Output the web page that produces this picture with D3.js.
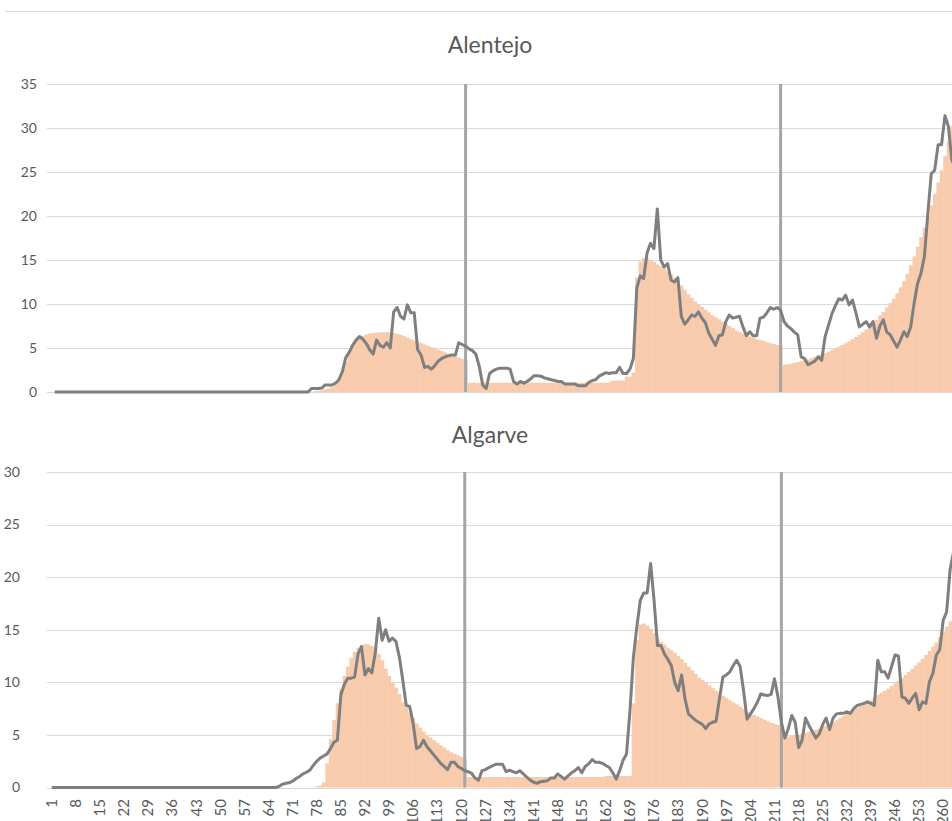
<!DOCTYPE html>
<html><head><meta charset="utf-8">
<script src="https://cdn.jsdelivr.net/npm/d3@7"></script>
<style>html,body{margin:0;padding:0;background:#fff;overflow:hidden}</style>
</head><body>
<svg id="c" width="952" height="821"></svg>
<script>
// ---------- DATA ----------
const categories = d3.range(1, 271);
const tickLabels = ["1","8","15","22","29","36","43","50","57","64","71","78","85","92","99","106","113","120","127","134","141","148","155","162","169","176","183","190","197","204","211","218","225","232","239","246","253","260","267"];
const markerCategories = [121, 213];
const panelTitles = ["Alentejo", "Algarve"];

const alentejoLine = [
0,0,0,0,0,0,0,0,0,0,
0,0,0,0,0,0,0,0,0,0,
0,0,0,0,0,0,0,0,0,0,
0,0,0,0,0,0,0,0,0,0,
0,0,0,0,0,0,0,0,0,0,
0,0,0,0,0,0,0,0,0,0,
0,0,0,0,0,0,0,0,0,0,
0,0,0,0,0,0.4,0.4,0.4,0.45,0.8,
0.8,0.8,1.0,1.4,2.3,3.9,4.5,5.3,5.9,6.3,
6.0,5.5,4.8,4.3,5.9,5.3,5.1,5.6,5.0,9.1,
9.6,8.6,8.3,9.9,9.0,9.0,4.8,4.2,2.8,2.9,
2.6,3.0,3.5,3.8,4.0,4.1,4.2,4.2,5.6,5.4,
5.2,4.9,4.7,4.3,2.9,0.8,0.4,2.1,2.4,2.6,
2.7,2.7,2.7,2.6,1.2,0.9,1.2,1.0,1.2,1.5,
1.85,1.85,1.8,1.6,1.5,1.4,1.3,1.2,1.2,0.9,
0.9,0.9,0.9,0.7,0.7,0.7,1.1,1.3,1.4,1.8,
2.0,2.2,2.1,2.2,2.2,2.8,2.1,2.1,2.6,3.8,
11.8,13.2,12.9,15.8,16.9,16.3,20.8,15.0,14.2,14.6,
12.7,12.5,13.0,8.6,7.7,8.2,8.75,8.6,9.1,8.4,
7.9,6.7,6.0,5.3,6.4,6.5,8.0,8.75,8.4,8.5,
8.6,7.4,6.4,6.85,6.4,6.4,8.4,8.5,9.0,9.6,
9.4,9.6,9.3,8.0,7.5,7.2,6.8,6.5,4.0,3.8,
3.1,3.3,3.5,4.0,3.6,6.3,7.6,8.9,9.8,10.6,
10.45,11.0,9.9,10.45,9.0,7.4,7.7,8.0,7.4,8.0,
6.1,7.5,8.2,6.8,6.5,5.8,5.1,5.9,6.85,6.3,
7.4,10.1,12.3,13.5,15.4,20.3,24.8,25.2,28.1,28.1,
31.4,30.2,26.4,25.5
];
const alentejoBars = [
0,0,0,0,0,0,0,0,0,0,
0,0,0,0,0,0,0,0,0,0,
0,0,0,0,0,0,0,0,0,0,
0,0,0,0,0,0,0,0,0,0,
0,0,0,0,0,0,0,0,0,0,
0,0,0,0,0,0,0,0,0,0,
0,0,0,0,0,0,0,0,0,0,
0,0,0,0,0,0,0.1,0.15,0.2,0.3,
0.4,0.6,1.0,1.5,2.4,3.4,4.4,5.2,5.9,6.2,
6.4,6.55,6.65,6.7,6.75,6.8,6.8,6.8,6.75,6.7,
6.6,6.5,6.35,6.2,6.0,5.85,5.7,5.55,5.4,5.25,
5.1,4.95,4.8,4.65,4.5,4.35,4.2,4.05,3.9,3.75,
3.6,1.05,1.05,1.05,1.05,1.05,1.05,1.05,1.05,1.05,
1.05,1.05,1.05,1.05,1.05,1.05,1.05,1.05,1.05,1.05,
1.05,1.05,1.05,1.05,1.05,1.05,1.05,1.05,1.05,1.05,
1.05,1.05,1.05,1.05,1.05,1.05,1.05,1.05,1.05,1.05,
1.05,1.05,1.1,1.3,1.3,1.3,1.3,1.75,1.75,2.2,
13.0,14.8,15.2,15.2,15.0,14.8,14.5,14.3,14.0,13.7,
13.4,13.0,12.6,12.1,11.6,11.1,10.7,10.3,10.0,9.7,
9.35,9.05,8.75,8.5,8.25,8.0,7.75,7.5,7.25,7.0,
6.8,6.6,6.45,6.3,6.15,6.0,5.9,5.8,5.65,5.55,
5.45,5.35,5.3,3.1,3.15,3.2,3.3,3.4,3.5,3.6,
3.7,3.85,4.0,4.15,4.3,4.45,4.6,4.8,5.0,5.15,
5.35,5.55,5.75,6.0,6.25,6.5,6.8,7.1,7.45,7.8,
8.2,8.7,9.1,9.6,10.1,10.6,11.2,11.9,12.6,13.4,
14.4,15.4,16.5,17.6,18.7,19.9,21.2,22.5,23.8,25.2,
26.8,28.5,30.2,32.0
];
const algarveLine = [
0,0,0,0,0,0,0,0,0,0,
0,0,0,0,0,0,0,0,0,0,
0,0,0,0,0,0,0,0,0,0,
0,0,0,0,0,0,0,0,0,0,
0,0,0,0,0,0,0,0,0,0,
0,0,0,0,0,0,0,0,0,0,
0,0,0,0,0,0,0.1,0.3,0.4,0.45,
0.6,0.85,1.05,1.3,1.45,1.65,2.1,2.5,2.8,3.0,
3.2,3.7,4.3,4.5,8.8,9.8,10.4,10.4,10.5,12.7,
13.4,10.7,11.3,10.9,12.8,16.1,14.0,15.0,13.9,14.2,
13.9,12.4,10.2,7.8,7.7,6.1,3.7,3.9,4.5,3.9,
3.5,3.1,2.7,2.3,2.0,1.7,2.4,2.4,2.0,1.8,
1.6,1.5,1.35,0.9,0.7,1.6,1.7,1.9,2.05,2.2,
2.2,2.2,1.5,1.65,1.5,1.4,1.6,1.3,1.0,0.7,
0.5,0.4,0.55,0.6,0.65,0.9,0.9,1.3,1.05,0.8,
1.1,1.4,1.6,1.9,1.4,2.0,2.25,2.65,2.4,2.4,
2.3,2.1,1.9,1.4,0.8,1.6,2.6,3.2,7.3,12.4,
15.3,17.8,18.5,18.5,21.3,17.8,13.5,13.5,12.7,12.2,
11.6,10.0,9.2,10.7,8.4,7.0,6.7,6.4,6.2,6.0,
5.6,6.05,6.2,6.3,8.45,10.5,10.7,11.0,11.6,12.1,
11.5,9.2,6.5,7.0,7.5,8.1,8.9,8.8,8.75,8.85,
10.35,8.6,6.2,4.7,5.6,6.85,6.2,3.8,4.5,6.6,
5.9,5.3,4.7,5.1,6.0,6.6,5.5,6.6,7.0,7.05,
7.05,7.2,7.05,7.5,7.8,7.9,8.0,8.15,8.0,7.8,
12.1,11.0,11.0,10.4,11.5,12.6,12.5,8.6,8.5,8.0,
8.5,8.95,7.4,8.15,8.0,10.05,10.85,12.6,13.1,15.9,
16.7,20.7,22.4,24.0
];
const algarveBars = [
0,0,0,0,0,0,0,0,0,0,
0,0,0,0,0,0,0,0,0,0,
0,0,0,0,0,0,0,0,0,0,
0,0,0,0,0,0,0,0,0,0,
0,0,0,0,0,0,0,0,0,0,
0,0,0,0,0,0,0,0,0,0,
0,0,0,0,0,0,0,0,0,0,
0,0,0,0,0,0,0,0.1,0.2,0.5,
2.3,4.6,6.4,8.0,9.4,10.6,11.5,12.3,12.9,13.3,
13.55,13.65,13.6,13.45,13.2,12.7,12.1,11.3,10.6,10.0,
9.5,8.9,8.1,7.6,7.1,6.6,6.1,5.7,5.3,5.0,
4.75,4.5,4.25,4.0,3.8,3.55,3.35,3.2,3.05,2.9,
2.75,1.0,1.0,1.0,1.0,1.0,1.0,1.0,1.0,1.0,
1.0,1.0,1.0,1.0,1.0,1.0,1.0,1.0,1.0,1.0,
1.0,1.0,1.0,1.0,1.0,1.0,1.0,1.0,1.0,1.0,
1.0,1.0,1.0,1.0,1.0,1.0,1.0,1.0,1.0,1.0,
1.0,1.1,1.1,1.1,1.1,1.1,1.1,1.1,1.1,8.0,
14.0,15.5,15.6,15.4,15.1,14.7,14.2,13.85,13.6,13.3,
13.05,12.8,12.5,12.2,11.85,11.5,11.15,10.8,10.45,10.2,
9.95,9.7,9.45,9.2,8.95,8.7,8.5,8.3,8.1,7.9,
7.7,7.45,7.2,7.0,6.9,6.75,6.6,6.45,6.3,6.15,
6.05,5.95,5.9,4.8,4.85,4.9,4.95,5.0,5.1,5.2,
5.3,5.4,5.5,5.6,5.75,5.9,6.05,6.2,6.4,6.6,
6.8,7.0,7.2,7.35,7.55,7.75,7.95,8.1,8.3,8.55,
8.8,9.0,9.2,9.4,9.65,9.9,10.15,10.4,10.7,11.0,
11.3,11.6,11.9,12.25,12.6,13.0,13.4,13.8,14.3,14.8,
15.3,15.8,16.3,16.8
];
const alentejoTicks = [0,5,10,15,20,25,30,35];
const algarveTicks = [0,5,10,15,20,25,30];

// ---------- LAYOUT ----------
const FONT = "Lato, 'Open Sans', sans-serif";
const TEXT = "#595959";
const panels = [
  {title: panelTitles[0], line: alentejoLine, bars: alentejoBars, ticks: alentejoTicks,
   left: 53, band: 3.424, yTop: 84, yBottom: 392, gridLeft: 47, labelRight: 37, titleY: 53, showX: false},
  {title: panelTitles[1], line: algarveLine, bars: algarveBars, ticks: algarveTicks,
   left: 50, band: 3.442, yTop: 472, yBottom: 787.5, gridLeft: 47, labelRight: 20, titleY: 443, showX: true}
];

const svg = d3.select("#c");
svg.append("rect").attr("width", 952).attr("height", 821).attr("fill", "#fff");
svg.append("line").attr("x1", 5).attr("x2", 952).attr("y1", 11.5).attr("y2", 11.5)
  .attr("stroke", "#d9d9d9").attr("stroke-width", 1);

panels.forEach(p => {
  const g = svg.append("g");
  const x = d3.scaleBand().domain(categories)
    .range([p.left, p.left + categories.length * p.band]).paddingInner(0).paddingOuter(0);
  const y = d3.scaleLinear().domain([0, d3.max(p.ticks)]).range([p.yBottom, p.yTop]);
  const bw = x.bandwidth();
  const cx = c => x(c) + bw / 2;

  // title
  g.append("text").attr("x", 490).attr("y", p.titleY).attr("text-anchor", "middle")
    .attr("font-family", FONT).attr("font-size", 23).attr("fill", TEXT).text(p.title);

  // gridlines
  g.selectAll(".grid").data(p.ticks).join("line")
    .attr("x1", p.gridLeft).attr("x2", 1200)
    .attr("y1", d => Math.round(y(d)) + 0.5).attr("y2", d => Math.round(y(d)) + 0.5)
    .attr("stroke", "#d9d9d9").attr("stroke-width", 1);

  // y labels
  g.selectAll(".yl").data(p.ticks).join("text")
    .attr("x", p.labelRight).attr("y", d => y(d)).attr("dy", "0.35em")
    .attr("text-anchor", "end").attr("font-family", FONT).attr("font-size", 14)
    .attr("fill", TEXT).text(d => d);

  // bars
  const barData = p.bars.map((v, i) => ({c: categories[i], v}));
  g.selectAll(".bar").data(barData.filter(d => d.v > 0)).join("rect")
    .attr("x", d => x(d.c)).attr("width", bw + 0.4)
    .attr("y", d => y(d.v)).attr("height", d => y(0) - y(d.v))
    .attr("fill", "#f8cbad");

  // marker vertical lines
  g.selectAll(".mk").data(markerCategories).join("line")
    .attr("x1", d => cx(d)).attr("x2", d => cx(d))
    .attr("y1", y(d3.max(p.ticks))).attr("y2", y(0))
    .attr("stroke", "#a5a5a5").attr("stroke-width", 3);

  // line
  const lineData = p.line.map((v, i) => ({c: categories[i], v}));
  g.append("path").datum(lineData)
    .attr("d", d3.line().x(d => cx(d.c)).y(d => y(d.v)))
    .attr("fill", "none").attr("stroke", "#7f7f7f").attr("stroke-width", 3)
    .attr("stroke-linejoin", "round");

  // x labels
  if (p.showX) {
    g.selectAll(".xl").data(tickLabels).join("text")
      .attr("transform", d => `translate(${cx(+d)},799) rotate(-90)`)
      .attr("dy", "0.35em").attr("text-anchor", "end")
      .attr("font-family", FONT).attr("font-size", 15).attr("fill", TEXT).text(d => d);
  }
});
</script>
</body></html>
